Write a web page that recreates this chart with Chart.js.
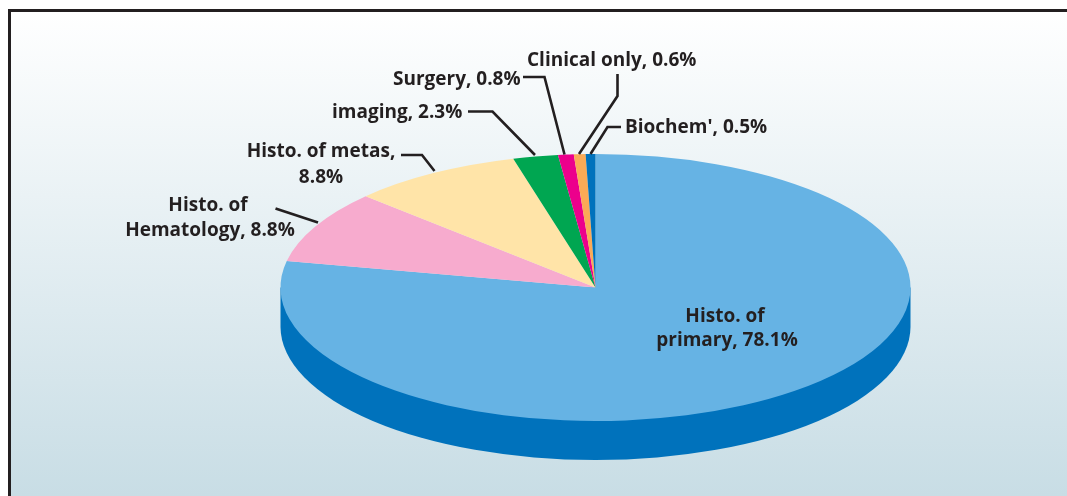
<!DOCTYPE html>
<html><head><meta charset="utf-8">
<script src="https://cdn.jsdelivr.net/npm/chart.js@4/dist/chart.umd.min.js"></script>
<style>html,body{margin:0;padding:0;background:#fff}canvas{display:block}</style>
</head><body>
<canvas id="c" width="1067" height="496"></canvas>
<script>
const categories = ["Histo. of primary","Histo. of Hematology","Histo. of metas","imaging","Surgery","Clinical only","Biochem'"];
const shares = [78.1,8.8,8.8,2.3,0.8,0.6,0.5];
const sliceColors = ["#66b3e4","#f7abce","#ffe4a8","#00a651","#ec008c","#fbaa56","#0072bc"];
const wallColor = "#0072bc";
const inkColor = "#231f20";
const FONT = '700 19px "Open Sans"';
const SQUASH = 133.5/315, DEPTH = 39;
const texts = [
 ["Clinical only, 0.6%",527,66,"left"],
 ["Surgery, 0.8%",393,85,"left"],
 ["imaging, 2.3%",332,118,"left"],
 ["Biochem', 0.5%",625,133,"left"],
 ["Histo. of metas,",321,157,"center"],
 ["8.8%",321,183,"center"],
 ["Histo. of",208,211,"center"],
 ["Hematology, 8.8%",210,236,"center"],
 ["Histo. of",725,322,"center"],
 ["primary, 78.1%",727,346,"center"]
];
const leaders = [
 [[523,77],[544.5,77],[564.5,154.5]],
 [[468,111.5],[492.5,111.5],[535,155]],
 [[617.5,74],[617.5,96],[579,154]],
 [[621,127],[607.5,127],[590.5,154]],
 [[401,155],[422,155],[434.5,171]],
 [[275.5,208.5],[318,222.5]]
];
const pie3d = {
 id:"pie3d",
 beforeDraw(chart){
  const {ctx}=chart; ctx.save();
  ctx.fillStyle="#fff"; ctx.fillRect(0,0,1067,496);
  const g=ctx.createLinearGradient(0,10,0,496);
  g.addColorStop(0,"#ffffff"); g.addColorStop(1,"#c8dde5");
  ctx.fillStyle=g; ctx.fillRect(9,10,1058,486);
  ctx.strokeStyle=inkColor; ctx.lineWidth=3;
  ctx.beginPath(); ctx.moveTo(9.5,496); ctx.lineTo(9.5,10.5); ctx.lineTo(1067,10.5); ctx.stroke();
  ctx.restore();
 },
 beforeDatasetsDraw(chart){
  const {ctx}=chart, a=chart.getDatasetMeta(0).data[0], x=a.x, y=a.y, r=a.outerRadius;
  ctx.save();
  ctx.fillStyle=wallColor;
  ctx.beginPath();
  ctx.ellipse(x,y+DEPTH,r,r*SQUASH,0,0,Math.PI);
  ctx.lineTo(x-r,y); ctx.lineTo(x+r,y); ctx.closePath(); ctx.fill();
  ctx.translate(x,y); ctx.scale(1,SQUASH); ctx.translate(-x,-y);
 },
 afterDatasetsDraw(chart){ chart.ctx.restore(); },
 afterDraw(chart){
  const {ctx}=chart; ctx.save();
  ctx.strokeStyle=inkColor; ctx.lineWidth=2.6; ctx.lineJoin="miter";
  for(const l of leaders){ ctx.beginPath(); l.forEach((p,i)=>i?ctx.lineTo(p[0],p[1]):ctx.moveTo(p[0],p[1])); ctx.stroke(); }
  ctx.fillStyle=inkColor; ctx.font=FONT; ctx.textBaseline="alphabetic";
  for(const t of texts){ ctx.textAlign=t[3]; ctx.fillText(t[0],t[1],t[2]); }
  ctx.restore();
 }
};
new Chart(document.getElementById("c"),{
 type:"pie",
 data:{labels:categories,datasets:[{data:shares,backgroundColor:sliceColors,borderWidth:0,clip:false,radius:315}]},
 options:{responsive:false,animation:false,
  layout:{padding:{left:124,right:0,top:79,bottom:0}},
  plugins:{legend:{display:false},tooltip:{enabled:false}}},
 plugins:[pie3d]
});
</script>
</body></html>
